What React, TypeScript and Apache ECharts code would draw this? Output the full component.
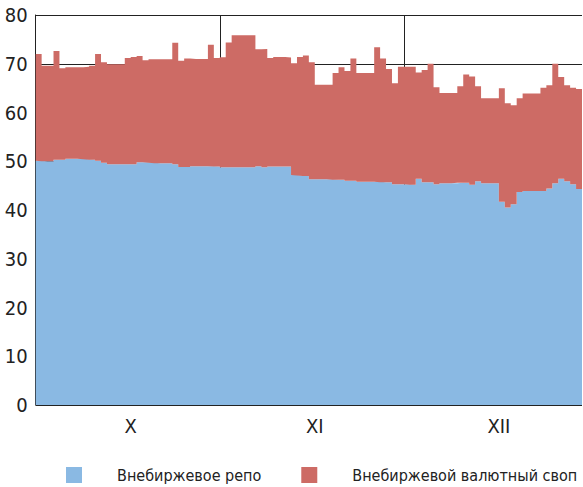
import React, { useEffect, useRef } from "react";
import * as echarts from "echarts";

// Daily slots (Oct 31, Nov 31, Dec 30 visible)
const slotCount = 92;
// one boundary point per slot edge (slotCount + 1 edges)
const categories: string[] = Array.from({ length: slotCount + 1 }, (_, i) => String(i));

const monthLabels = ["X", "XI", "XII"];
const monthLabelSlots = [16, 47, 78];
const monthBoundarySlots = [31, 62];

const yTicks = [0, 10, 20, 30, 40, 50, 60, 70, 80];

// Внебиржевое репо (bottom, blue)
const repo = [
  50.1, 50.0, 50.0, 50.3, 50.3, 50.5, 50.5, 50.5, 50.4, 50.3,
  50.1, 49.7, 49.4, 49.4, 49.4, 49.4, 49.4, 49.8, 49.8, 49.7,
  49.6, 49.6, 49.6, 49.4, 48.8, 48.8, 49.0, 49.0, 49.0, 49.0,
  48.9, 48.75, 48.75, 48.75, 48.75, 48.75, 48.75, 49.0, 48.75, 48.9,
  48.9, 48.9, 48.9, 47.2, 47.1, 47.0, 46.3, 46.3, 46.3, 46.3,
  46.2, 46.2, 46.0, 46.0, 45.8, 45.8, 45.8, 45.8, 45.7, 45.7,
  45.3, 45.3, 45.3, 45.2, 46.4, 45.7, 45.7, 45.3, 45.5, 45.5,
  45.5, 45.6, 45.6, 45.2, 45.9, 45.5, 45.5, 45.5, 41.7, 40.5,
  41.2, 43.7, 43.9, 43.9, 43.9, 43.9, 44.4, 45.5, 46.4, 45.9,
  45.3, 44.3,
];

// Внебиржевой валютный своп (stacked on top, red)
const swap = [
  21.9, 19.6, 19.6, 22.3, 18.8, 18.8, 18.8, 18.8, 19.0, 19.3,
  21.9, 20.6, 20.5, 20.5, 20.5, 21.8, 22.0, 21.8, 20.9, 21.2,
  21.3, 21.3, 21.3, 24.9, 21.8, 22.3, 22.0, 22.0, 22.0, 24.9,
  22.3, 22.6, 25.6, 27.1, 27.1, 27.1, 27.1, 24.0, 24.3, 22.3,
  22.5, 22.5, 22.4, 22.9, 24.3, 24.7, 24.0, 19.4, 19.4, 19.4,
  21.9, 23.1, 22.5, 25.1, 22.3, 22.3, 22.3, 27.6, 25.4, 23.2,
  20.7, 24.1, 24.1, 24.2, 21.8, 23.0, 24.3, 19.9, 18.5, 18.5,
  18.5, 19.8, 22.2, 22.2, 19.5, 17.4, 17.4, 17.4, 23.3, 21.4,
  20.3, 19.2, 20.0, 20.0, 20.0, 21.2, 21.2, 24.5, 20.9, 19.7,
  19.8, 20.5,
];

const seriesNames = ["Внебиржевое репо", "Внебиржевой валютный своп"];
const seriesColors = ["#8ab9e3", "#cd6b65"];

const FONT = "'DejaVu Sans Condensed', 'Liberation Sans', sans-serif";

// step 'end': each value spans from its edge to the next one; repeat last value for the closing edge
const withClosingEdge = (arr: number[]) => arr.concat([arr[arr.length - 1]]);

export default function App() {
  const ref = useRef<HTMLDivElement>(null);

  useEffect(() => {
    if (!ref.current) return;
    const chart = echarts.init(ref.current, undefined, { renderer: "svg" });
    const mkSeries = (k: number, data: number[]) => ({
      name: seriesNames[k],
      type: "line",
      stack: "total",
      step: "end",
      data: withClosingEdge(data),
      showSymbol: false,
      symbol: "none",
      color: seriesColors[k],
      lineStyle: { width: 0, color: seriesColors[k] },
      areaStyle: { color: seriesColors[k], opacity: 1 },
      itemStyle: { color: seriesColors[k] },
    });
    chart.setOption({
      animation: false,
      backgroundColor: "#ffffff",
      textStyle: { fontFamily: FONT },
      grid: { left: 35.7, right: 1, top: 15, bottom: 82, containLabel: false },
      legend: {
        data: seriesNames,
        left: 61,
        top: 462,
        icon: "rect",
        itemWidth: 16,
        itemHeight: 16,
        itemGap: 40,
        textStyle: { fontFamily: FONT, fontSize: 16, color: "#222", padding: [0, 0, 0, 30] },
      },
      xAxis: {
        type: "category",
        data: categories,
        boundaryGap: false,
        axisLine: { show: false },
        axisTick: { show: false },
        axisLabel: {
          interval: (idx: number) => monthLabelSlots.includes(idx),
          formatter: (_v: string, idx: number) => {
            const k = monthLabelSlots.indexOf(idx);
            return k >= 0 ? monthLabels[k] : "";
          },
          fontFamily: FONT,
          fontSize: 20,
          color: "#222",
          margin: 11,
        },
        splitLine: {
          show: true,
          interval: (idx: number) => monthBoundarySlots.includes(idx),
          lineStyle: { color: "#222", width: 1 },
        },
      },
      yAxis: {
        type: "value",
        min: yTicks[0],
        max: yTicks[yTicks.length - 1],
        interval: 10,
        axisLine: { show: true, lineStyle: { color: "#222", width: 1 } },
        axisTick: { show: false },
        axisLabel: { fontFamily: FONT, fontSize: 20, color: "#222", margin: 8 },
        splitLine: { show: true, lineStyle: { color: "#222", width: 1 } },
      },
      series: [mkSeries(0, repo), mkSeries(1, swap)],
    });
    return () => chart.dispose();
  }, []);

  return <div ref={ref} style={{ width: 583, height: 487, position: "absolute", left: 0, top: 0 }} />;
}
